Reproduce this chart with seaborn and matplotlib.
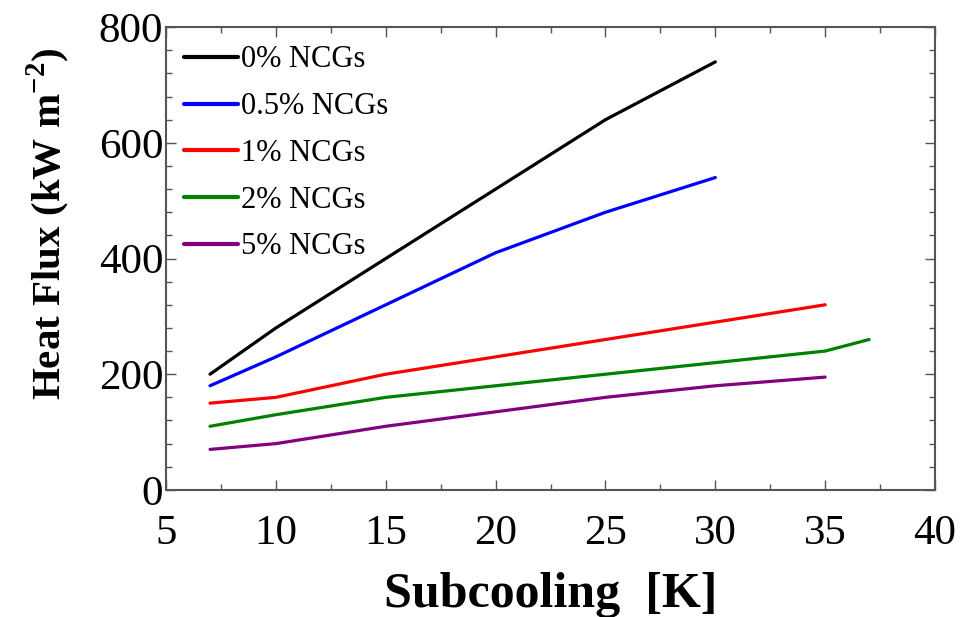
import matplotlib
matplotlib.use("Agg")
import matplotlib.pyplot as plt
import seaborn as sns
import pandas as pd
from matplotlib.ticker import MultipleLocator

# Heat flux vs. subcooling for different non-condensable gas fractions
series_labels = ["0% NCGs", "0.5% NCGs", "1% NCGs", "2% NCGs", "5% NCGs"]
series_colors = ["#000000", "#0000ff", "#ff0000", "#008000", "#800080"]

sub_0 = [7, 10, 15, 20, 25, 30]
flux_0 = [200, 280, 400, 520, 640, 740]

sub_05 = [7, 10, 15, 20, 25, 30]
flux_05 = [180, 230, 320, 410, 480, 540]

sub_1 = [7, 10, 15, 20, 25, 30, 35]
flux_1 = [150, 160, 200, 230, 260, 290, 320]

sub_2 = [7, 10, 15, 20, 25, 30, 35, 37]
flux_2 = [110, 130, 160, 180, 200, 220, 240, 260]

sub_5 = [7, 10, 15, 20, 25, 30, 35]
flux_5 = [70, 80, 110, 135, 160, 180, 195]

x_ticks = [5, 10, 15, 20, 25, 30, 35, 40]
y_ticks = [0, 200, 400, 600, 800]

frames = []
for lab, xs, ys in zip(series_labels,
                       [sub_0, sub_05, sub_1, sub_2, sub_5],
                       [flux_0, flux_05, flux_1, flux_2, flux_5]):
    frames.append(pd.DataFrame({"Subcooling": xs, "Flux": ys, "Series": lab}))
df = pd.concat(frames, ignore_index=True)

sns.set_theme(style="ticks")
plt.rcParams["font.family"] = ["Liberation Serif", "DejaVu Serif"]
plt.rcParams["mathtext.fontset"] = "custom"
plt.rcParams["mathtext.rm"] = "Liberation Serif"
plt.rcParams["mathtext.bf"] = "Liberation Serif:bold"
plt.rcParams["text.color"] = "black"
plt.rcParams["axes.labelcolor"] = "black"

fig = plt.figure(figsize=(9.6, 6.17), dpi=100)
ax = fig.add_axes([0.173, 0.206, 0.801, 0.750])

sns.lineplot(data=df, x="Subcooling", y="Flux", hue="Series",
             hue_order=series_labels, palette=series_colors,
             linewidth=2.3, sort=False, estimator=None, ax=ax)

ax.set_xlim(5, 40)
ax.set_ylim(0, 800)
ax.set_xticks(x_ticks)
ax.set_yticks(y_ticks)
ax.xaxis.set_minor_locator(MultipleLocator(2.5))
ax.yaxis.set_minor_locator(MultipleLocator(40))
ax.tick_params(which="both", direction="in", top=True, right=True,
               color="#555555", width=1.0, labelcolor="black")
ax.tick_params(which="major", length=7, labelsize=31)
ax.tick_params(axis="x", which="major", pad=18)
ax.tick_params(axis="y", which="major", pad=2)
ax.tick_params(which="minor", length=4)
for sp in ax.spines.values():
    sp.set_color("#555555")
    sp.set_linewidth(1.5)

ax.set_xlabel("Subcooling  [K]", fontsize=36, fontweight="bold")
ax.xaxis.set_label_coords(0.5, -0.178)
ax.set_ylabel(r"Heat Flux (kW m$^{\mathbf{-2}}$)", fontsize=29.5,
              fontweight="bold")
ax.yaxis.set_label_coords(-0.122, 0.575)

leg = ax.legend(loc="upper left", frameon=False, fontsize=22,
                handlelength=1.75, handletextpad=0.1, labelspacing=0.58,
                borderaxespad=0.2, bbox_to_anchor=(0.0, 1.0))
for line in leg.get_lines():
    line.set_linewidth(3)

fig.savefig("out.png", dpi=100)
